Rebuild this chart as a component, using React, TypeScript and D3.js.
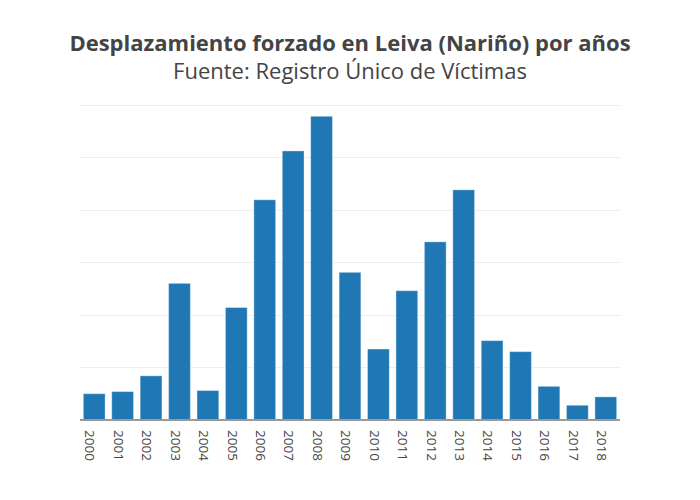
import React from "react";
import * as d3 from "d3";

const years = ["2000","2001","2002","2003","2004","2005","2006","2007","2008","2009","2010","2011","2012","2013","2014","2015","2016","2017","2018"];
const values = [51, 55, 85, 261, 57, 215, 420, 513, 579, 282, 136, 247, 340, 439, 152, 131, 65, 29, 45];
const gridTicks = [100, 200, 300, 400, 500, 600];

const titleText = "Desplazamiento forzado en Leiva (Nariño) por años";
const subtitleText = "Fuente: Registro Único de Víctimas";

export default function App() {
  const W = 700, H = 500;
  const left = 80, right = 620, top = 100, bottom = 420;
  const x = d3.scaleBand<string>().domain(years).range([left, right]).paddingInner(0.2).paddingOuter(0.1);
  const y = d3.scaleLinear().domain([0, 609]).range([bottom, top]);
  const font = "'Open Sans', sans-serif";
  return (
    <div style={{ position: "absolute", left: 0, top: 0 }}>
      <svg width={W} height={H} style={{ display: "block", background: "#fff" }}>
        {gridTicks.map((t) => (
          <line key={t} x1={left} x2={right} y1={Math.round(y(t)) + 0.5} y2={Math.round(y(t)) + 0.5} stroke="#eee" strokeWidth={1} />
        ))}
        {years.map((yr, i) => (
          <rect
            key={yr}
            x={x(yr)! + 0.5}
            y={y(values[i]) + 0.5}
            width={x.bandwidth() - 1}
            height={y(0) - y(values[i]) - 0.5}
            fill="#1f77b4"
            stroke="rgba(255,255,255,0.35)"
            strokeWidth={1}
          />
        ))}
        <line x1={left} x2={right} y1={y(0)} y2={y(0)} stroke="#999" strokeWidth={2} />
        {years.map((yr) => {
          const cx = x(yr)! + x.bandwidth() / 2;
          return (
            <text
              key={yr}
              transform={`translate(${cx - 4},430) rotate(90)`}
              dy="0.35em"
              textAnchor="start"
              fontFamily={font}
              fontSize={13.5}
              fill="#444"
            >
              {yr}
            </text>
          );
        })}
        <text x={350} y={51} textAnchor="middle" fontFamily={font} fontSize={22} fontWeight="bold" fill="#444">
          {titleText}
        </text>
        <text x={350} y={79} textAnchor="middle" fontFamily={font} fontSize={22} fill="#444">
          {subtitleText}
        </text>
      </svg>
    </div>
  );
}
